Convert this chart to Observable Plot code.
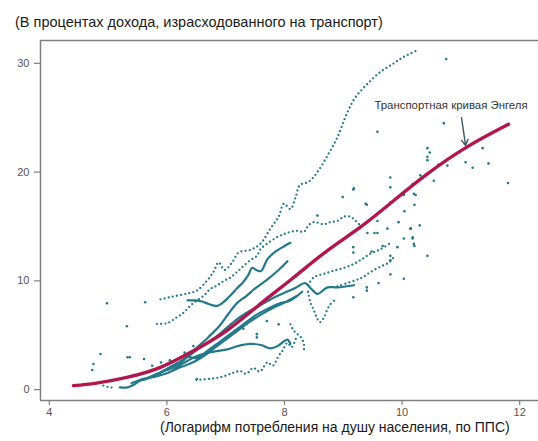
<!DOCTYPE html>
<html>
<head>
<meta charset="utf-8">
<script src="https://cdn.jsdelivr.net/npm/d3@7"></script>
<script src="https://cdn.jsdelivr.net/npm/@observablehq/plot@0.6"></script>
<style>
  html, body { margin: 0; padding: 0; background: #fff; }
  body { width: 538px; height: 441px; overflow: hidden; font-family: "Liberation Sans", Arial, sans-serif; }
  #title { height: 30px; box-sizing: border-box; padding: 14px 0 0 15px; font-size: 14.5px; line-height: 16px; color: #1a1a1a; white-space: nowrap; }
  #xlabel { height: 21px; box-sizing: border-box; padding: 0 0 0 160px; font-size: 14px; line-height: 15px; color: #1a1a1a; white-space: nowrap; }
  #chart svg { display: block; }
</style>
</head>
<body>
<div id="title"></div>
<div id="chart"></div>
<div id="xlabel"></div>
<script>
const titleText = "(В процентах дохода, израсходованного на транспорт)";
const xLabelText = "(Логарифм потребления на душу населения, по ППС)";
const annotationText = "Транспортная кривая Энгеля";
const xTicks = [4, 6, 8, 10, 12];
const yTicks = [0, 10, 20, 30];
const xDomain = [3.85, 12.32];
const yDomain = [-1.0, 32.1];

// Transport Engel curve (red)
const engelCurve = [[4.41,0.37],[4.8,0.6],[5.32,1.13],[5.89,2.05],[6.46,3.59],[7.02,5.43],[7.59,7.88],[8.16,10.33],[8.73,12.79],[9.29,14.93],[9.86,17.39],[10.43,19.84],[11.1,22.3],[11.81,24.4]];

// dotted country paths
const pathA = [[5.89,8.3],[6.05,8.5],[6.23,8.7],[6.4,8.9],[6.51,9.1],[6.68,10.0],[6.8,10.9],[6.88,11.7],[6.98,11.0],[7.11,11.7],[7.22,12.6],[7.42,12.85],[7.59,13.4],[7.76,14.8],[7.9,15.9],[7.99,17.1],[8.1,16.6],[8.19,17.7],[8.26,18.8],[8.41,19.1],[8.56,20.0],[8.73,21.5],[8.9,23.2],[9.07,25.5],[9.21,26.9],[9.41,28.1],[9.63,29.2],[9.86,30.0],[10.03,30.6],[10.26,31.2]];
const pathC = [[5.83,6.04],[6.0,6.1],[6.17,6.65],[6.29,7.1],[6.4,7.72],[6.51,8.2],[6.63,8.65],[6.74,9.26],[6.85,9.56],[6.97,10.0],[7.08,10.3],[7.19,10.8],[7.31,11.4],[7.42,11.9],[7.53,12.3],[7.59,12.9],[7.7,13.4],[7.87,14.0],[7.99,14.3],[8.1,14.5],[8.22,14.6],[8.33,14.5],[8.41,15.1],[8.5,15.4],[8.67,15.2],[8.78,15.4],[8.9,15.5],[9.01,15.9],[9.12,15.9],[9.21,15.5],[9.29,15.1]];
const pathE = [[6.5,0.9],[6.75,1.0],[6.95,1.2],[7.13,1.55],[7.25,1.7],[7.35,1.45],[7.47,2.0],[7.58,1.65],[7.71,2.5],[7.8,2.2],[7.9,3.1],[7.97,3.6],[8.05,4.3],[8.12,3.9],[8.2,4.8]];
const pathF1 = [[8.4,9.6],[8.5,10.33],[8.67,10.64],[8.84,10.94],[9.01,11.19],[9.18,11.56],[9.32,12.0],[9.46,12.5],[9.63,12.9],[9.78,13.4]];
const pathF2 = [[8.9,9.5],[9.18,10.0],[9.32,10.3],[9.46,10.8],[9.63,11.3],[9.78,11.7],[9.86,12.2]];
const pathG = [[8.4,9.0],[8.44,8.0],[8.5,7.3],[8.55,6.6],[8.6,6.2],[8.67,6.6],[8.73,7.4],[8.79,7.9],[8.85,8.2]];
const pathH = [[8.1,6.0],[8.16,5.4],[8.22,5.1],[8.28,4.8],[8.33,4.2],[8.33,3.6]];
const pathLow = [[4.92,0.37],[5.04,0.2],[5.12,0.2]];

// solid (dense) country paths
const pathB = [[6.35,8.2],[6.49,8.2],[6.6,8.1],[6.7,7.9],[6.85,7.7],[6.95,8.0],[7.05,8.5],[7.19,9.3],[7.3,9.9],[7.38,10.5],[7.45,11.2],[7.52,11.0],[7.6,10.9],[7.71,12.0],[7.85,12.7],[8.0,13.2],[8.1,13.5]];
const pathD1 = [[5.9,1.6],[6.1,2.2],[6.3,2.8],[6.5,3.8],[6.7,4.8],[6.9,5.9],[7.05,7.0],[7.2,8.0],[7.35,8.6],[7.5,9.3],[7.7,10.1],[7.9,11.0],[8.05,11.8]];
const pathD2 = [[5.2,0.2],[5.33,0.2],[5.41,0.37],[5.55,0.83],[5.72,1.1],[5.8,1.3],[6.0,1.9],[6.2,2.5],[6.4,3.2],[6.6,4.0],[6.8,4.7],[7.0,5.6],[7.2,6.5],[7.4,7.2],[7.6,7.8],[7.8,8.4],[8.0,8.9],[8.2,9.4],[8.35,9.8],[8.45,9.3],[8.56,8.8],[8.73,9.4],[8.9,9.4],[9.18,9.6]];
const pathD3 = [[5.4,0.6],[5.6,1.0],[5.8,1.2],[6.0,1.5],[6.2,2.0],[6.4,2.4],[6.6,3.0],[6.8,3.8],[7.0,4.6],[7.2,5.4],[7.4,6.2],[7.6,6.9],[7.8,7.5],[8.0,8.0],[8.2,8.6]];
const pathD4 = [[5.6,0.9],[5.8,1.4],[6.0,1.8],[6.2,2.3],[6.35,3.0],[6.5,2.9],[6.7,3.6],[6.9,4.4],[7.1,5.2],[7.3,6.0],[7.5,6.8],[7.7,7.4],[7.9,7.9],[8.1,8.2],[8.3,9.0]];
const pathD5 = [[6.1,1.8],[6.3,2.5],[6.57,3.2],[6.8,3.5],[7.03,3.7],[7.2,4.0],[7.42,4.2],[7.6,4.1],[7.76,3.8],[7.88,4.0],[7.98,4.4],[8.05,4.6],[8.1,4.2]];

// isolated observations
const scatterPoints = [[4.98,7.94],[5.63,8.03],[5.32,5.82],[4.87,3.27],[4.75,2.36],[4.73,1.8],[5.33,2.97],[5.37,2.97],[5.61,2.82],[6.51,0.98],[7.53,5.1],[7.53,4.8],[9.58,23.7],[10.71,24.5],[10.75,30.4],[10.43,22.2],[10.47,21.8],[10.43,21.4],[10.43,21.1],[11.37,22.2],[11.08,20.9],[11.2,20.4],[11.47,20.8],[11.8,19.0],[10.62,20.7],[10.77,20.6],[10.31,19.7],[9.8,19.5],[9.8,18.6],[10.18,18.9],[10.54,19.2],[9.17,18.4],[8.99,17.7],[10.0,18.0],[10.2,18.0],[9.4,17.0],[10.03,17.9],[10.23,17.9],[9.8,17.2],[10.21,17.0],[10.04,16.4],[10.3,15.1],[9.58,15.5],[9.94,15.4],[9.75,14.8],[9.58,14.4],[9.41,14.4],[9.53,14.4],[10.15,14.8],[10.03,13.9],[10.18,13.9],[10.21,13.2],[9.92,13.1],[9.67,13.2],[10.43,12.3],[9.8,12.3],[9.8,11.9],[9.48,12.7],[9.17,13.1],[9.17,12.6],[9.8,10.6],[10.03,10.2],[9.6,9.8],[9.4,9.4],[9.4,9.1],[9.17,8.5],[8.56,16.0],[9.18,18.5],[9.38,17.1],[10.14,14.8],[10.18,14.0],[10.2,13.4],[5.75,2.2],[5.9,2.5],[6.05,2.7],[6.3,3.4],[6.45,4.0],[7.3,5.6],[7.7,6.3],[7.9,6.0]];

const annotation = [{x: 9.53, y: 26.1, text: annotationText}];
const arrowSeg = [{x1: 11.01, y1: 25.0, x2: 11.08, y2: 22.45}];

document.getElementById("title").textContent = titleText;
document.getElementById("xlabel").textContent = xLabelText;

const teal = "#23798a";
const dottedStyle = {stroke: teal, strokeWidth: 2.3, strokeDasharray: "0,4.2", strokeLinecap: "round", curve: "catmull-rom"};
const solidStyle = {stroke: teal, strokeWidth: 2.2, curve: "catmull-rom"};

const chart = Plot.plot({
  width: 538,
  height: 390,
  marginTop: 10,
  marginLeft: 40,
  marginRight: 0,
  marginBottom: 20,
  x: {domain: xDomain},
  y: {domain: yDomain},
  style: {fontFamily: "'Liberation Sans', Arial, sans-serif", fontSize: "11px", background: "#fff", overflow: "visible"},
  marks: [
    Plot.ruleY([yDomain[0]], {stroke: "#7f7f7f", strokeWidth: 1.5}),
    Plot.ruleY([yDomain[1]], {stroke: "#7f7f7f", strokeWidth: 1.5}),
    Plot.ruleX([xDomain[0]], {stroke: "#7f7f7f", strokeWidth: 1.5}),
    Plot.axisX(xTicks, {tickSize: 5, tickPadding: 3, stroke: "#7f7f7f", fill: "#555", label: null, strokeWidth: 1.2}),
    Plot.axisY(yTicks, {tickSize: 6, tickPadding: 5, stroke: "#7f7f7f", fill: "#555", label: null, strokeWidth: 1.2}),
    Plot.line(pathA, dottedStyle),
    Plot.line(pathC, dottedStyle),
    Plot.line(pathE, dottedStyle),
    Plot.line(pathF1, dottedStyle),
    Plot.line(pathF2, dottedStyle),
    Plot.line(pathG, dottedStyle),
    Plot.line(pathH, dottedStyle),
    Plot.line(pathLow, dottedStyle),
    Plot.line(pathB, solidStyle),
    Plot.line(pathD1, solidStyle),
    Plot.line(pathD2, solidStyle),
    Plot.line(pathD3, solidStyle),
    Plot.line(pathD4, solidStyle),
    Plot.line(pathD5, solidStyle),
    Plot.dot(scatterPoints, {r: 1.3, fill: teal, stroke: null}),
    Plot.line(engelCurve, {stroke: "#b3164d", strokeWidth: 3.4, curve: "natural", strokeLinecap: "round"}),
    Plot.text(annotation, {x: "x", y: "y", text: "text", textAnchor: "start", fontSize: 11.4, fill: "#333"}),
    Plot.arrow(arrowSeg, {x1: "x1", y1: "y1", x2: "x2", y2: "y2", stroke: "#3b5b66", strokeWidth: 1.4, headLength: 7})
  ]
});
document.getElementById("chart").appendChild(chart);
</script>
</body>
</html>
